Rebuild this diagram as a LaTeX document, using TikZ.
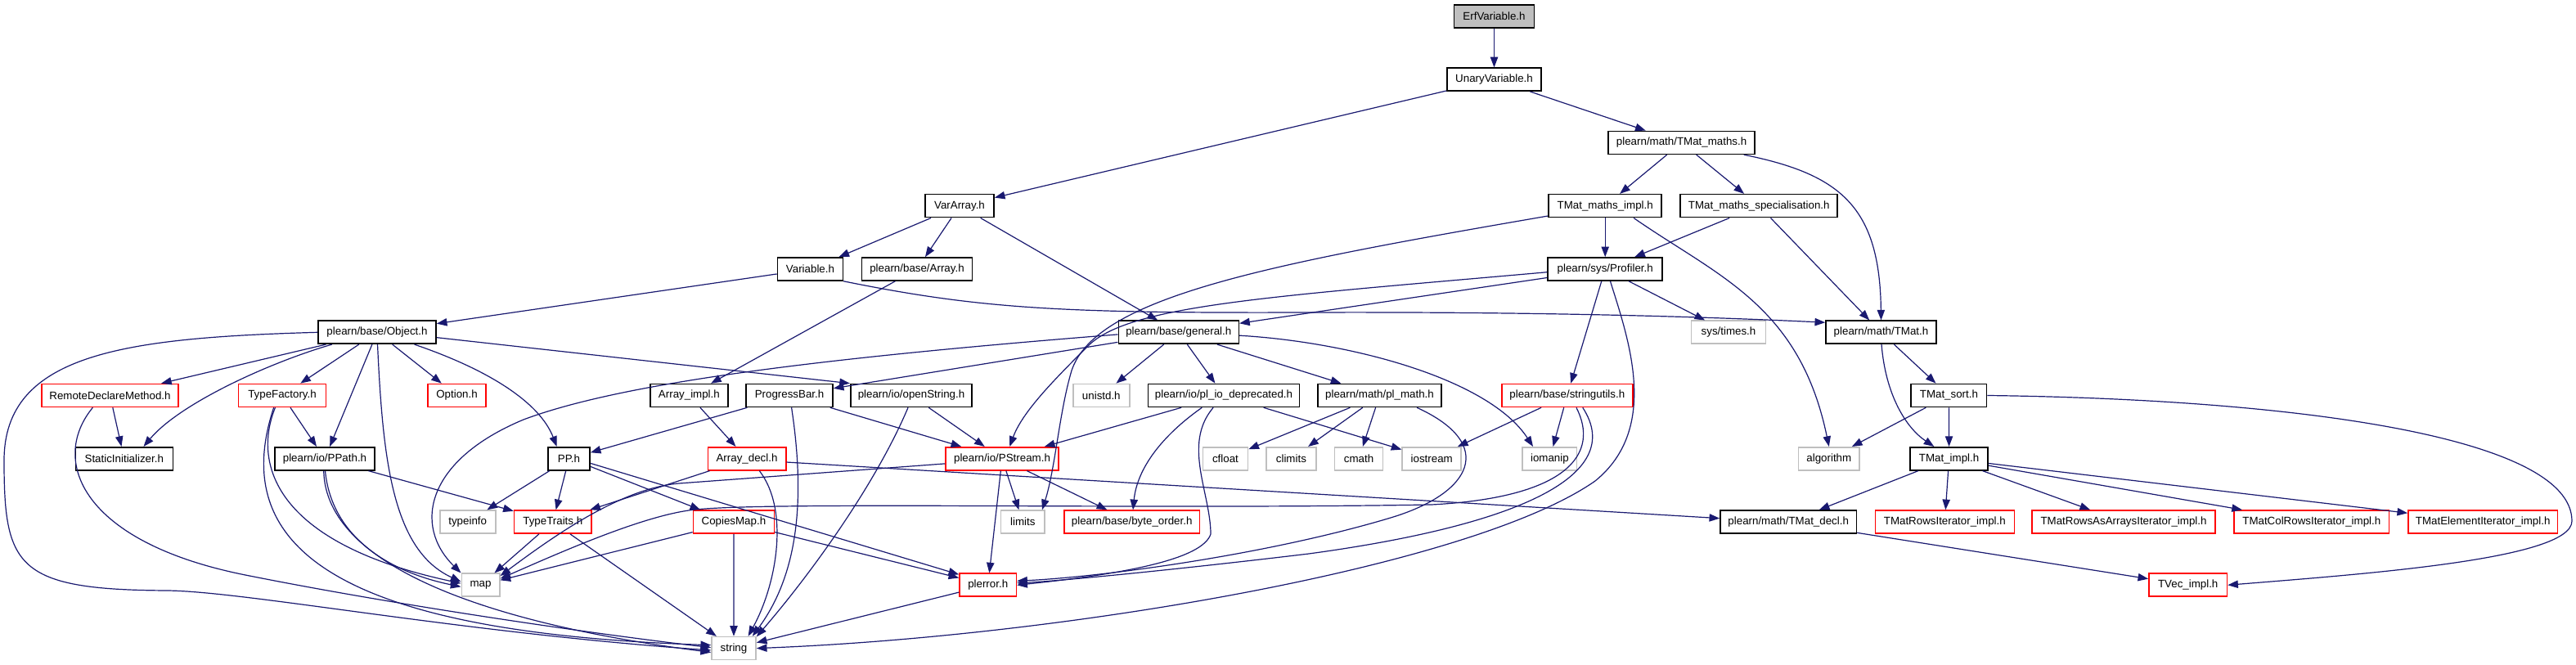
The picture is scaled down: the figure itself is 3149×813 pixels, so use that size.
\documentclass[tikz,border=0pt]{standalone}
\usepackage{fontspec}
\setmainfont{Liberation Sans}
\usetikzlibrary{arrows.meta}
\definecolor{edgeblue}{HTML}{191970}
\definecolor{sysgray}{HTML}{BFBFBF}
\begin{document}
\begin{tikzpicture}[x=0.75pt,y=0.75pt,
    every node/.style={draw=black, fill=white, line width=1.2pt, minimum height=21pt, inner sep=0pt, font=\fontsize{10}{12}\selectfont},
    wd/.style={minimum width=#1*0.75pt},
    sys/.style={draw=sysgray},
    miss/.style={draw=red},
    root/.style={fill=sysgray},
    dep/.style={draw=edgeblue, line width=0.9pt, -{Triangle[length=9.5pt,width=7pt]}}]
            \path[fill=white] (0,0) rectangle (3149,813);
            \node[root,wd=98] (erf) at (1826.5,793.1) {ErfVariable.h};
            \node[wd=115] (unary) at (1826.5,715.8) {UnaryVariable.h};
            \node[wd=179] (tmaths) at (2055.6,638.6) {plearn/math/TMat\_maths.h};
            \node[wd=84] (vararray) at (1173,561.3) {VarArray.h};
            \node[wd=138] (tmimpl) at (1962.2,561.3) {TMat\_maths\_impl.h};
            \node[wd=192] (tmspec) at (2150.2,561.3) {TMat\_maths\_specialisation.h};
            \node[wd=80] (variable) at (990.5,484) {Variable.h};
            \node[wd=135] (array) at (1121,484) {plearn/base/Array.h};
            \node[wd=140] (profiler) at (1962.2,484) {plearn/sys/Profiler.h};
            \node[wd=144] (object) at (461,406.7) {plearn/base/Object.h};
            \node[wd=147] (general) at (1440.8,406.7) {plearn/base/general.h};
            \node[sys,wd=91] (times) at (2113,406.7) {sys/times.h};
            \node[wd=135] (tmat) at (2299.5,406.7) {plearn/math/TMat.h};
            \node[miss,wd=167] (remote) at (134.5,329.5) {RemoteDeclareMethod.h};
            \node[miss,wd=107] (typefactory) at (345,329.5) {TypeFactory.h};
            \node[miss,wd=71] (option) at (558.5,329.5) {Option.h};
            \node[wd=95] (arrayimpl) at (842.4,329.5) {Array\_impl.h};
            \node[wd=106] (progress) at (965,329.5) {ProgressBar.h};
            \node[wd=148.5] (openstring) at (1114,329.5) {plearn/io/openString.h};
            \node[sys,wd=69] (unistd) at (1346.3,329.5) {unistd.h};
            \node[wd=185] (pliodep) at (1496,329.5) {plearn/io/pl\_io\_deprecated.h};
            \node[wd=150.5] (plmath) at (1686.5,329.5) {plearn/math/pl\_math.h};
            \node[miss,wd=160] (stringutils) at (1915.8,329.5) {plearn/base/stringutils.h};
            \node[wd=92.4] (tmsort) at (2382.4,329.5) {TMat\_sort.h};
            \node[wd=119] (static) at (151.8,252.2) {StaticInitializer.h};
            \node[wd=122.5] (ppath) at (397,252.2) {plearn/io/PPath.h};
            \node[wd=51] (pp) at (695.5,252.2) {PP.h};
            \node[miss,wd=95.4] (arraydecl) at (913,252.2) {Array\_decl.h};
            \node[miss,wd=138] (pstream) at (1225,252.2) {plearn/io/PStream.h};
            \node[sys,wd=55] (cfloat) at (1498,252.2) {cfloat};
            \node[sys,wd=61] (climits) at (1578.4,252.2) {climits};
            \node[sys,wd=58.7] (cmath) at (1661,252.2) {cmath};
            \node[sys,wd=72] (iostream) at (1750.2,252.2) {iostream};
            \node[sys,wd=66.4] (iomanip) at (1894.4,252.2) {iomanip};
            \node[sys,wd=74.5] (algorithm) at (2235.8,252.2) {algorithm};
            \node[wd=95] (tmatimpl) at (2382.6,252.2) {TMat\_impl.h};
            \node[sys,wd=68] (typeinfo) at (571.7,174.9) {typeinfo};
            \node[miss,wd=94.4] (typetraits) at (675.8,174.9) {TypeTraits.h};
            \node[miss,wd=99] (copiesmap) at (896.9,174.9) {CopiesMap.h};
            \node[sys,wd=53.5] (limits) at (1250.3,174.9) {limits};
            \node[miss,wd=165.3] (byteorder) at (1383.7,174.9) {plearn/base/byte\_order.h};
            \node[wd=166.4] (tmatdecl) at (2186.2,174.9) {plearn/math/TMat\_decl.h};
            \node[miss,wd=170] (rowsiter) at (2377.3,174.9) {TMatRowsIterator\_impl.h};
            \node[miss,wd=223.5] (rowsarrays) at (2596,174.9) {TMatRowsAsArraysIterator\_impl.h};
            \node[miss,wd=189.3] (colrows) at (2825.8,174.9) {TMatColRowsIterator\_impl.h};
            \node[miss,wd=182.6] (element) at (3035.2,174.9) {TMatElementIterator\_impl.h};
            \node[sys,wd=46.4] (map) at (587.5,97.7) {map};
            \node[miss,wd=69.3] (plerror) at (1207.7,97.7) {plerror.h};
            \node[miss,wd=95.4] (tvecimpl) at (2674.7,97.7) {TVec\_impl.h};
            \node[sys,wd=54] (string) at (897,20.4) {string};

            \draw[dep] (erf) -- (unary);
            \draw[dep] (unary) -- (vararray);
            \draw[dep] (unary) -- (tmaths);
            \draw[dep] (tmaths) -- (tmimpl);
            \draw[dep] (tmaths) -- (tmspec);
            \draw[dep] (tmaths.-11) .. controls (2250,600) and (2298,560) .. (tmat.north);
            \draw[dep] (vararray) -- (variable);
            \draw[dep] (vararray) -- (array);
            \draw[dep] (vararray) -- (general);
            \draw[dep] (tmimpl) -- (profiler);
            \draw[dep] (tmimpl.190) .. controls (1550,490) and (1340,450) .. (1310,360) .. controls (1295,310) and (1290,240) .. (limits.32);
            \draw[dep] (tmimpl.-23) .. controls (2100,475) and (2200,440) .. (algorithm.north);
            \draw[dep] (tmspec) -- (profiler);
            \draw[dep] (tmspec) -- (tmat);
            \draw[dep] (variable) -- (object);
            \draw[dep] (variable.-20) .. controls (1200,435) and (1300,430) .. (1600,431) .. controls (1900,432) and (2100,425) .. (tmat.170);
            \draw[dep] (array) -- (arrayimpl);
            \draw[dep] (profiler) -- (general);
            \draw[dep] (profiler.183) .. controls (1550,450) and (1380,440) .. (1330,390) .. controls (1290,350) and (1250,310) .. (pstream.58);
            \draw[dep] (profiler) -- (times);
            \draw[dep] (profiler) -- (stringutils);
            \draw[dep] (profiler.-67) .. controls (1990,400) and (2030,290) .. (1950,225) .. controls (1800,120) and (1300,35) .. (string.east);
            \draw[dep] (object) -- (remote);
            \draw[dep] (object.-165) .. controls (330,370) and (220,320) .. (static.32);
            \draw[dep] (object) -- (typefactory);
            \draw[dep] (object) -- (ppath);
            \draw[dep] (object.-88) .. controls (468,250) and (480,140) .. (map.170);
            \draw[dep] (object) -- (option);
            \draw[dep] (object.-18) .. controls (600,360) and (660,320) .. (pp.135);
            \draw[dep] (object.-5) -- (openstring.north west);
            \draw[dep] (object.west) .. controls (150,400) and (5,380) .. (5,250) .. controls (5,120) and (20,92) .. (204,91) .. controls (300,90) and (560,40) .. (string.185);
            \draw[dep] (general) -- (progress);
            \draw[dep] (general.182) .. controls (1000,375) and (760,345) .. (640,300) .. controls (520,250) and (505,170) .. (map.north west);
            \draw[dep] (general) -- (unistd);
            \draw[dep] (general) -- (pliodep);
            \draw[dep] (general) -- (plmath);
            \draw[dep] (general.-3) .. controls (1650,395) and (1820,350) .. (iomanip.144);
            \draw[dep] (tmat) -- (tmsort);
            \draw[dep] (tmat.-88) .. controls (2305,330) and (2330,290) .. (tmatimpl.141);
            \draw[dep] (remote) -- (static);
            \draw[dep] (remote.-145) .. controls (60,250) and (100,150) .. (300,110) .. controls (500,70) and (750,35) .. (string.178);
            \draw[dep] (typefactory) -- (ppath);
            \draw[dep] (typefactory.-120) .. controls (310,250) and (330,150) .. (map.175);
            \draw[dep] (typefactory.-125) .. controls (280,150) and (400,40) .. (string.172);
            \draw[dep] (arrayimpl) -- (arraydecl);
            \draw[dep] (progress) -- (pp);
            \draw[dep] (progress) -- (pstream);
            \draw[dep] (progress.-80) .. controls (985,200) and (975,110) .. (string.33);
            \draw[dep] (openstring) -- (pstream);
            \draw[dep] (openstring.-105) .. controls (1070,220) and (990,110) .. (string.27);
            \draw[dep] (pliodep) -- (pstream);
            \draw[dep] (pliodep.-151) .. controls (1420,280) and (1390,240) .. (byteorder.85);
            \draw[dep] (pliodep.-131) .. controls (1445,270) and (1480,210) .. (1480,160) .. controls (1470,130) and (1380,112) .. (plerror.0);
            \draw[dep] (pliodep) -- (iostream);
            \draw[dep] (plmath) -- (cfloat);
            \draw[dep] (plmath) -- (climits);
            \draw[dep] (plmath) -- (cmath);
            \draw[dep] (plmath.-18) .. controls (1830,270) and (1800,210) .. (1700,180) .. controls (1550,135) and (1350,108) .. (plerror.8);
            \draw[dep] (stringutils) -- (iostream);
            \draw[dep] (stringutils) -- (iomanip);
            \draw[dep] (stringutils.-53) .. controls (1955,260) and (1920,205) .. (1750,196) .. controls (1400,190) and (950,200) .. (850,190) .. controls (790,184) and (690,140) .. (map.18);
            \draw[dep] (stringutils.-38) .. controls (1990,230) and (1850,170) .. (1600,136) .. controls (1450,118) and (1300,103) .. (plerror.4);
            \draw[dep] (tmsort) -- (algorithm);
            \draw[dep] (tmsort) -- (tmatimpl);
            \draw[dep] (tmsort.east) .. controls (2800,325) and (3144,280) .. (3144,176) .. controls (3144,130) and (2900,112) .. (tvecimpl.east);
            \draw[dep] (ppath) -- (typetraits);
            \draw[dep] (ppath.-88) .. controls (405,160) and (470,115) .. (map.185);
            \draw[dep] (ppath.-95) .. controls (398,120) and (600,50) .. (string.190);
            \draw[dep] (pp) -- (typeinfo);
            \draw[dep] (pp) -- (typetraits);
            \draw[dep] (pp.-20) -- (copiesmap.160);
            \draw[dep] (pp.-12) -- (plerror.160);
            \draw[dep] (arraydecl) -- (typetraits);
            \draw[dep] (arraydecl.-44) .. controls (965,190) and (950,100) .. (string.40);
            \draw[dep] (arraydecl.-5) -- (tmatdecl.177);
            \draw[dep] (pstream.185) -- (830,222) .. controls (760,216) and (680,160) .. (map.25);
            \draw[dep] (pstream) -- (limits);
            \draw[dep] (pstream) -- (byteorder);
            \draw[dep] (pstream) -- (plerror);
            \draw[dep] (tmatimpl) -- (tmatdecl);
            \draw[dep] (tmatimpl) -- (rowsiter);
            \draw[dep] (tmatimpl) -- (rowsarrays);
            \draw[dep] (tmatimpl) -- (colrows);
            \draw[dep] (tmatimpl) -- (element);
            \draw[dep] (typetraits) -- (map);
            \draw[dep] (typetraits) -- (string);
            \draw[dep] (copiesmap) -- (map);
            \draw[dep] (copiesmap) -- (string);
            \draw[dep] (copiesmap) -- (plerror);
            \draw[dep] (tmatdecl) -- (tvecimpl);
            \draw[dep] (plerror) -- (string);
        \end{tikzpicture}
\end{document}
